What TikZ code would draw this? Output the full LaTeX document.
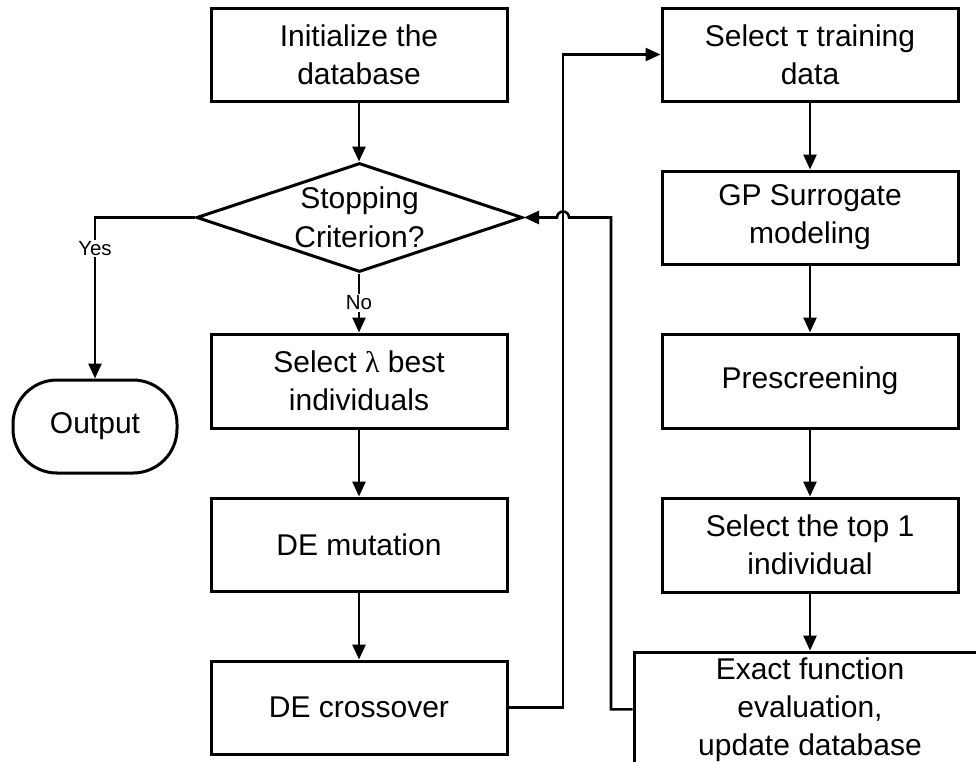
\documentclass[tikz,border=0pt]{standalone}
\usepackage{fontspec}
\setmainfont{Liberation Sans}
\newfontfamily\grserif{Liberation Serif}
\usetikzlibrary{arrows.meta,shapes.geometric,calc}
\begin{document}
\begin{tikzpicture}[x=1pt,y=-1pt,
  box/.style={draw, line width=3pt, minimum width=296pt, minimum height=93pt,
    align=center, inner sep=0pt, font=\fontsize{30}{38}\selectfont},
  conn/.style={line width=2.6pt, -{Triangle[length=15pt,width=13pt]}},
  lab/.style={fill=white, inner sep=1.5pt, font=\fontsize{20.5}{24}\selectfont},
  txt/.style={align=center, inner sep=0pt, font=\fontsize{30}{39}\selectfont}]
\useasboundingbox (0,0) rectangle (976,761);
\fill[white] (0,0) rectangle (976,761);

% left column
\node[box] (init) at (359,54.5) {Initialize the\\database};
\node[draw, diamond, line width=3pt, minimum width=326pt, minimum height=109pt, inner sep=0pt] (dia) at (359.5,217.5) {};
\node[txt] (diatxt) at (359.5,217.5) {Stopping\\Criterion?};
\node[box, minimum height=94pt] (selbest) at (359,381) {Select {\grserif λ} best\\individuals};
\node[box] (mut) at (359,544.5) {DE mutation};
\node[box] (cross) at (359,707.5) {DE crossover};
\node[draw, line width=3pt, rounded corners=44pt, minimum width=164pt, minimum height=93pt,
  inner sep=0pt, font=\fontsize{30}{38}\selectfont] (out) at (95,426.5) {Output};

% right column
\node[box] (tau) at (810,54.5) {Select τ training\\data};
\node[box] (gp) at (810,217.5) {GP Surrogate\\modeling};
\node[box, minimum height=94pt] (pre) at (810,381) {Prescreening};
\node[box, minimum height=94pt] (top1) at (810,545) {Select the top 1\\individual};
\node[box, minimum width=352pt, minimum height=114.8pt] (exact) at (810,709.4) {Exact function\\evaluation,\\update database};

\coordinate (jx) at (563,0);
\coordinate (fx) at (611,0);

% connectors
\draw[conn] (init.south) -- (init.south |- dia.north);
\draw[conn] (dia.west) -| (out.north) node[lab, pos=0.596] {Yes};
\draw[conn] (dia.south -| selbest.north) -- (selbest.north) node[lab, pos=0.5] {No};
\draw[conn] (selbest) -- (mut);
\draw[conn] (mut) -- (cross);
\draw[conn] (tau) -- (gp);
\draw[conn] (gp) -- (pre);
\draw[conn] (pre) -- (top1);
\draw[conn] (top1.south) -- (top1.south |- exact.north);
\draw[conn] (cross.east) -- (cross.east -| jx) -- (jx |- tau.west) -- (tau.west);
\draw[conn] (exact.west) -- (exact.west -| fx) -- (fx |- dia.east)
  -- ($(jx |- dia.east)+(6,0)$) arc[start angle=0, end angle=180, radius=6pt] -- (dia.east);
\end{tikzpicture}
\end{document}
